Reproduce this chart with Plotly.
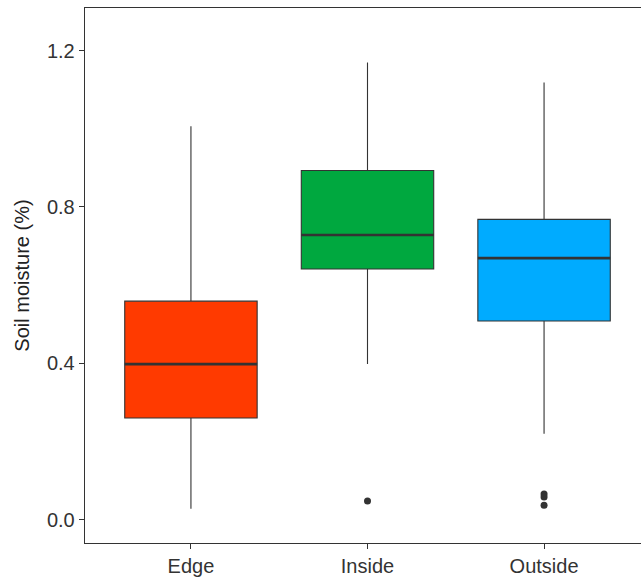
import plotly.graph_objects as go

categories = ["Edge", "Inside", "Outside"]
q1 = [0.260, 0.641, 0.508]
median = [0.398, 0.728, 0.669]
q3 = [0.559, 0.893, 0.768]
lower_whisker = [0.028, 0.398, 0.220]
upper_whisker = [1.006, 1.169, 1.118]
outliers = [[], [0.048], [0.066, 0.058, 0.037]]
fill_colors = ["#FF3A00", "#00A83F", "#00ABFF"]

box_width = 0.75
line_col = "#333333"

fig = go.Figure()
for i, cat in enumerate(categories):
    fig.add_trace(go.Box(
        x=[i], q1=[q1[i]], median=[median[i]], q3=[q3[i]],
        lowerfence=[lower_whisker[i]], upperfence=[upper_whisker[i]],
        width=box_width, whiskerwidth=0,
        fillcolor=fill_colors[i],
        line=dict(color=line_col, width=1.1),
        boxpoints=False, showlegend=False, name=cat,
    ))
    # thicker median line (ggplot style)
    fig.add_trace(go.Scatter(
        x=[i - box_width / 2, i + box_width / 2], y=[median[i], median[i]],
        mode="lines", line=dict(color=line_col, width=2.6),
        showlegend=False, hoverinfo="skip",
    ))
    if outliers[i]:
        fig.add_trace(go.Scatter(
            x=[i] * len(outliers[i]), y=outliers[i], mode="markers",
            marker=dict(color=line_col, size=7),
            showlegend=False,
        ))

font_family = "Liberation Sans, Arial, sans-serif"
fig.update_layout(
    width=651, height=577,
    margin=dict(l=85, r=0, t=8, b=31),
    paper_bgcolor="white", plot_bgcolor="white",
    font=dict(family=font_family, size=20, color="#333333"),
    xaxis=dict(
        range=[-0.6, 2.6],
        tickmode="array", tickvals=list(range(len(categories))), ticktext=categories,
        showgrid=False, zeroline=False,
        showline=True, linecolor=line_col, linewidth=1.3, mirror=True,
        ticks="outside", ticklen=5, tickcolor=line_col, tickwidth=1,
        tickfont=dict(size=20, color="#333333"),
    ),
    yaxis=dict(
        range=[-0.0596, 1.3087],
        tickmode="array", tickvals=[0.0, 0.4, 0.8, 1.2],
        ticktext=["0.0", "0.4", "0.8", "1.2"],
        showgrid=False, zeroline=False,
        showline=True, linecolor=line_col, linewidth=1.3, mirror=True,
        ticks="outside", ticklen=5, tickcolor=line_col, tickwidth=1,
        tickfont=dict(size=20, color="#333333"),
        title=dict(text="Soil moisture (%)", font=dict(size=20, color="#222222"), standoff=12),
    ),
)

fig.write_html(
    "out.html",
    config={"displayModeBar": False, "staticPlot": True},
    post_script="document.body.style.margin='0';document.documentElement.style.overflow='hidden';document.body.style.overflow='hidden';",
)
